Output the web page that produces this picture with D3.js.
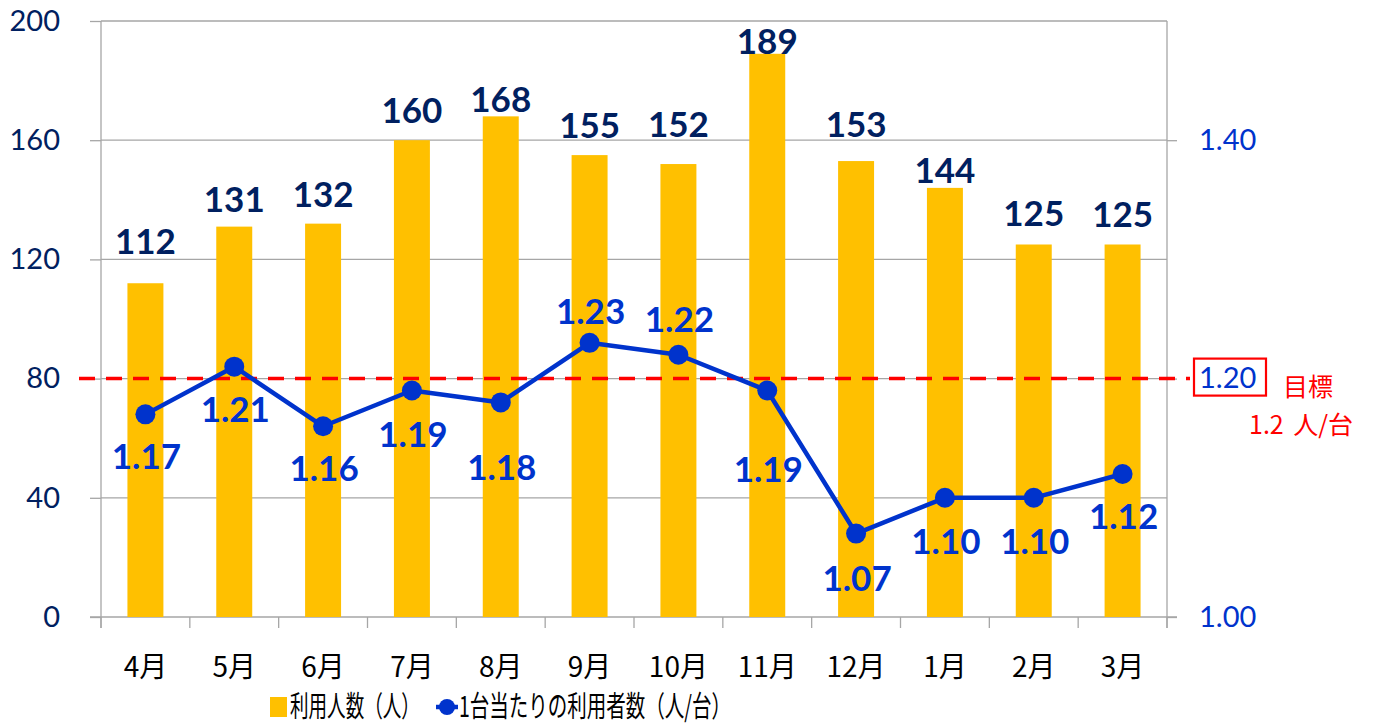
<!DOCTYPE html>
<html lang="ja">
<head>
  <meta charset="UTF-8">
  <title>利用人数と1台当たりの利用者数</title>
  <script src="https://cdn.jsdelivr.net/npm/d3@7"></script>
  <style>
    body { margin: 0; background: #fff; }
    svg { display: block; }
  </style>
</head>
<body>
  <div class="workspace"></div>
  <script>
    // data
    const months = ['4月', '5月', '6月', '7月', '8月', '9月', '10月', '11月', '12月', '1月', '2月', '3月']
    const users = [112, 131, 132, 160, 168, 155, 152, 189, 153, 144, 125, 125]
    const perCar = [1.17, 1.21, 1.16, 1.19, 1.18, 1.23, 1.22, 1.19, 1.07, 1.10, 1.10, 1.12]
    const leftTicks = [0, 40, 80, 120, 160, 200]
    const rightTicks = [1.00, 1.20, 1.40]
    const target = 1.2

    // label nudges (baseline offset, px) to mimic the hand-placed labels
    const barLabelDy = [-29, -15, -17, -17, -4, -17, -27, 0, -24, -5, -19, -18]
    const lineLabelDy = [55, 55, 55, 56, 78, -19, -23, 91, 57, 56, 56, 55]

    const width = 1381
    const height = 727
    const margin = { top: 21, left: 101, right: 214, bottom: 110 }
    const innerW = width - margin.left - margin.right
    const innerH = height - margin.top - margin.bottom

    const numFont = 'Lato, "Open Sans", sans-serif'
    const jpFont = '"Noto Sans CJK JP", "Noto Sans", sans-serif'
    const barColor = '#FFC000'
    const lineColor = '#0033CC'
    const navy = '#002060'
    const red = '#FF0000'

    const svg = d3.select('.workspace').append('svg')
      .attr('width', width)
      .attr('height', height)

    const g = svg.append('g')
      .attr('transform', 'translate(' + [margin.left, margin.top] + ')')

    const x = d3.scaleBand()
      .domain(months)
      .range([0, innerW])
      .paddingInner(0.595)
      .paddingOuter(0.2975)

    const y = d3.scaleLinear().domain([0, 200]).range([innerH, 0])
    const y2 = d3.scaleLinear().domain([1.0, 1.5]).range([innerH, 0])

    // gridlines
    g.append('g')
      .selectAll('line')
      .data(leftTicks.filter(d => d > 0))
      .enter().append('line')
      .attr('x1', 0).attr('x2', innerW)
      .attr('y1', d => y(d)).attr('y2', d => y(d))
      .attr('stroke', '#A6A6A6').attr('stroke-width', 1.3)

    // left axis
    const leftAxis = g.append('g')
      .call(d3.axisLeft(y).tickValues(leftTicks).tickSize(11).tickPadding(30).tickSizeOuter(0))
    leftAxis.select('.domain').remove()
    leftAxis.selectAll('.tick line').attr('stroke', '#A6A6A6').attr('stroke-width', 1.3)
    leftAxis.selectAll('.tick text')
      .attr('fill', navy)
      .style('font-family', numFont)
      .style('font-size', '29px')
    g.append('line')
      .attr('x1', 0).attr('x2', 0).attr('y1', 0).attr('y2', innerH + 11)
      .attr('stroke', '#A6A6A6').attr('stroke-width', 1.3)

    // right axis
    const rightAxis = g.append('g')
      .attr('transform', 'translate(' + innerW + ',0)')
      .call(d3.axisRight(y2).tickValues(rightTicks).tickSize(10).tickPadding(22)
        .tickFormat(d3.format('.2f')).tickSizeOuter(0))
    rightAxis.select('.domain').remove()
    rightAxis.selectAll('.tick line').attr('stroke', '#A6A6A6').attr('stroke-width', 1.3)
    rightAxis.selectAll('.tick text')
      .attr('fill', lineColor)
      .style('font-family', numFont)
      .style('font-size', '29px')
    g.append('line')
      .attr('x1', innerW).attr('x2', innerW).attr('y1', 0).attr('y2', innerH + 11)
      .attr('stroke', '#A6A6A6').attr('stroke-width', 1.3)

    // bottom axis: labels from the band scale, ticks at category boundaries
    const bottomAxis = g.append('g')
      .attr('transform', 'translate(0,' + innerH + ')')
      .call(d3.axisBottom(x).tickSize(0).tickPadding(40))
    bottomAxis.select('.domain').remove()
    bottomAxis.selectAll('.tick text')
      .attr('fill', '#000')
      .style('font-family', jpFont)
      .style('font-size', '28px')
    const step = x.step()
    g.append('line')
      .attr('x1', -11).attr('x2', innerW + 10)
      .attr('y1', innerH).attr('y2', innerH)
      .attr('stroke', '#A6A6A6').attr('stroke-width', 1.3)
    g.append('g')
      .selectAll('line')
      .data(d3.range(months.length + 1))
      .enter().append('line')
      .attr('x1', i => i * step).attr('x2', i => i * step)
      .attr('y1', innerH).attr('y2', innerH + 11)
      .attr('stroke', '#A6A6A6').attr('stroke-width', 1.3)

    // bars
    g.append('g')
      .selectAll('rect')
      .data(users)
      .enter().append('rect')
      .attr('x', (d, i) => x(months[i]))
      .attr('y', d => y(d))
      .attr('width', x.bandwidth())
      .attr('height', d => innerH - y(d))
      .attr('fill', barColor)

    // target line
    g.append('line')
      .attr('x1', -22).attr('x2', innerW + 23)
      .attr('y1', y2(target)).attr('y2', y2(target))
      .attr('stroke', red)
      .attr('stroke-width', 3.5)
      .attr('stroke-dasharray', '16,11')

    // per-car line
    const cx = i => x(months[i]) + x.bandwidth() / 2
    const line = d3.line()
      .x((d, i) => cx(i))
      .y(d => y2(d))

    g.append('path')
      .datum(perCar)
      .attr('d', line)
      .attr('fill', 'none')
      .attr('stroke', lineColor)
      .attr('stroke-width', 4.5)
      .attr('stroke-linejoin', 'round')

    g.append('g')
      .selectAll('circle')
      .data(perCar)
      .enter().append('circle')
      .attr('cx', (d, i) => cx(i))
      .attr('cy', d => y2(d))
      .attr('r', 10)
      .attr('fill', lineColor)

    // bar value labels
    g.append('g')
      .selectAll('text')
      .data(users)
      .enter().append('text')
      .attr('x', (d, i) => cx(i))
      .attr('y', (d, i) => y(d) + barLabelDy[i])
      .attr('text-anchor', 'middle')
      .attr('fill', navy)
      .style('font-family', numFont)
      .style('font-weight', 'bold')
      .style('font-size', '35px')
      .text(d => d)

    // line value labels
    g.append('g')
      .selectAll('text')
      .data(perCar)
      .enter().append('text')
      .attr('x', (d, i) => cx(i) + 1)
      .attr('y', (d, i) => y2(d) + lineLabelDy[i])
      .attr('text-anchor', 'middle')
      .attr('fill', lineColor)
      .style('font-family', numFont)
      .style('font-weight', 'bold')
      .style('font-size', '35px')
      .text(d => d3.format('.2f')(d))

    // target annotation
    const ty = y2(target)
    g.append('rect')
      .attr('x', innerW + 27).attr('y', ty - 20)
      .attr('width', 72).attr('height', 37)
      .attr('fill', 'none')
      .attr('stroke', red)
      .attr('stroke-width', 2.2)
    g.append('text')
      .attr('x', innerW + 116).attr('y', ty + 17)
      .attr('fill', red)
      .style('font-family', jpFont)
      .style('font-size', '25px')
      .text('目標')
    g.append('text')
      .attr('x', innerW + 82).attr('y', ty + 55)
      .attr('fill', red)
      .style('font-family', jpFont)
      .style('font-size', '25px')
      .style('word-spacing', '4px')
      .text('1.2 人/台')

    // legend (text squeezed horizontally like the original)
    const legend = svg.append('g').attr('transform', 'translate(0,707)')
    legend.append('rect')
      .attr('x', 270).attr('y', -10)
      .attr('width', 17).attr('height', 20)
      .attr('fill', barColor)
    legend.append('line')
      .attr('x1', 436).attr('x2', 458)
      .attr('y1', 0).attr('y2', 0)
      .attr('stroke', lineColor).attr('stroke-width', 4.5)
    legend.append('circle')
      .attr('cx', 447).attr('cy', 0).attr('r', 8)
      .attr('fill', lineColor)

    const legendItems = [
      { text: '利用人数（人）', x: 290, w: 130 },
      { text: '1台当たりの利用者数（人/台）', x: 459, w: 272 }
    ]
    legendItems.forEach(item => {
      const t = legend.append('g')
      const txt = t.append('text')
        .attr('x', 0).attr('y', 10)
        .style('font-family', jpFont)
        .style('font-size', '29px')
        .text(item.text)
      const len = txt.node().getComputedTextLength()
      t.attr('transform', 'translate(' + item.x + ',0) scale(' + (item.w / len) + ',1)')
    })
  </script>
</body>
</html>
